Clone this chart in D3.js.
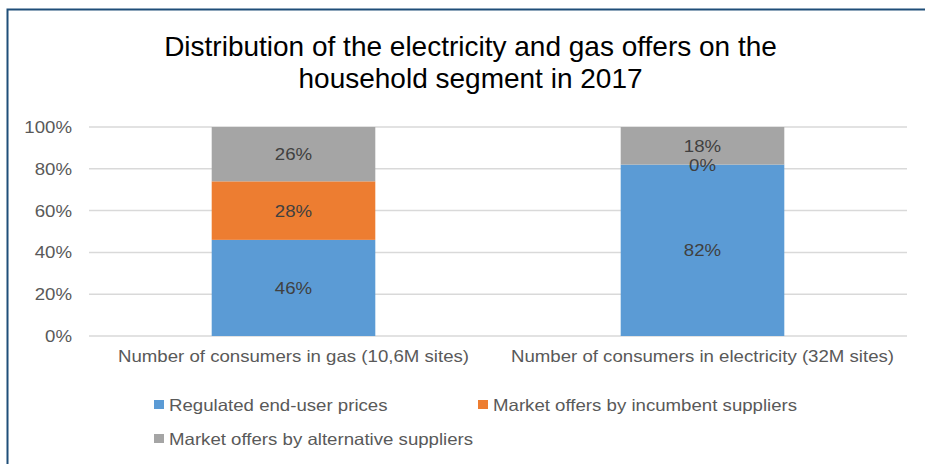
<!DOCTYPE html>
<html><head><meta charset="utf-8">
<script src="https://cdn.jsdelivr.net/npm/d3@7"></script>
<style>body{margin:0;background:#fff}svg{display:block;font-family:"Liberation Sans",Arial,sans-serif}</style>
</head><body>
<script>
const categories = ["Number of consumers in gas (10,6M sites)", "Number of consumers in electricity (32M sites)"];
const seriesNames = ["Regulated end-user prices", "Market offers by incumbent suppliers", "Market offers by alternative suppliers"];
const regulated = [46, 82];
const incumbent = [28, 0];
const alternative = [26, 18];
const yTicks = [0, 20, 40, 60, 80, 100];
const colors = ["#5B9BD5", "#ED7D31", "#A5A5A5"];

const W = 925, H = 464;
const FS = 16.5, SX = 1.13;
const svg = d3.select("body").append("svg").attr("width", W).attr("height", H);
svg.append("path").attr("d", `M7.5,${H} V9.5 H${W}`).attr("fill","none").attr("stroke","#1F4E79").attr("stroke-width",2);

function label(sel, x, y, txt, anchor, color, fs, sx) {
  return sel.append("text").attr("transform", `translate(${x},${y}) scale(${sx||SX},1)`)
    .attr("text-anchor", anchor).attr("font-size", fs||FS).attr("fill", color).text(txt);
}

const m = {left: 89, right: 907, top: 127, bottom: 336};
const x = d3.scaleBand().domain(categories).range([m.left, m.right]).paddingInner(0.6).paddingOuter(0.3);
const y = d3.scaleLinear().domain([0, 100]).range([m.bottom, m.top]);

// title
label(svg, 470.5, 55.5, "Distribution of the electricity and gas offers on the", "middle", "#000", 28, 1);
label(svg, 470.5, 87.5, "household segment in 2017", "middle", "#000", 28, 1);

// grid
svg.append("g").selectAll("line").data(yTicks).join("line")
  .attr("x1", m.left).attr("x2", m.right).attr("y1", d=>y(d)).attr("y2", d=>y(d))
  .attr("stroke","#D9D9D9").attr("stroke-width",1.5);

// y tick labels
const yg = svg.append("g");
yTicks.forEach(t => label(yg, 72, y(t)+6, t+"%", "end", "#595959"));

// x labels
const xg = svg.append("g");
categories.forEach(c => label(xg, x(c)+x.bandwidth()/2, 362, c, "middle", "#595959"));

// stacked data
const data = categories.map((c,i)=>({cat:c, s0:regulated[i], s1:incumbent[i], s2:alternative[i]}));
const stack = d3.stack().keys(["s0","s1","s2"])(data);

const g = svg.append("g");
stack.forEach((layer, li) => {
  g.selectAll(null).data(layer).join("rect")
    .attr("x", d=>x(d.data.cat)).attr("width", x.bandwidth())
    .attr("y", d=>y(d[1])).attr("height", d=>y(d[0])-y(d[1]))
    .attr("fill", colors[li]);
});
stack.forEach((layer) => {
  layer.forEach(d => label(g, x(d.data.cat)+x.bandwidth()/2, (y(d[0])+y(d[1]))/2 + 6, (d[1]-d[0])+"%", "middle", "#404040"));
});

// legend
const legPos = [[154,405],[478,405],[154,439]];
const leg = svg.append("g");
seriesNames.forEach((n,i)=>{
  const [lx,ly] = legPos[i];
  leg.append("rect").attr("x",lx).attr("y",ly-5).attr("width",10).attr("height",9).attr("fill",colors[i]);
  label(leg, lx+15, ly+6, n, "start", "#595959");
});
</script>
</body></html>
